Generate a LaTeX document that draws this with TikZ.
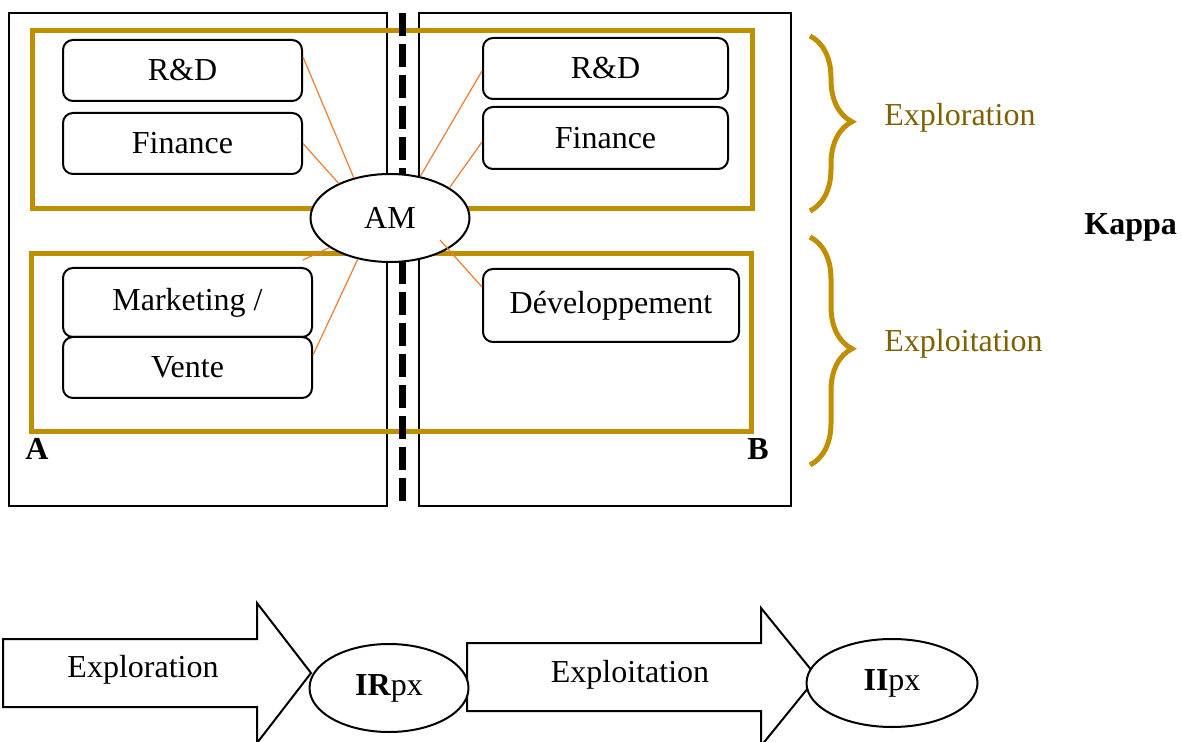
\documentclass[tikz,border=0pt]{standalone}
\usepackage{fontspec}
\setmainfont{Liberation Serif}
\usetikzlibrary{
  shapes.geometric,
  decorations.pathreplacing,
  positioning
}
\definecolor{gold}{HTML}{BF8F00}
\definecolor{golddark}{HTML}{7F6000}
\definecolor{linkorange}{HTML}{ED7D31}
\tikzset{
  base/.style={
    text=black,
    font=\fontsize{16}{19}\selectfont,
    align=center,
    inner sep=0pt,
  },
  panel/.style={
    draw=black,
    line width=1pt,
    minimum height=246.5pt,
  },
  zone/.style={
    draw=gold,
    line width=2.5pt,
    minimum width=360pt,
    minimum height=89pt,
  },
  divider/.style={
    line width=3.5pt,
    dash pattern=on 11.5pt off 4pt,
  },
  dept/.style={
    base,
    draw=black,
    fill=white,
    rounded corners=5pt,
    line width=1pt,
  },
  hub/.style={
    base,
    ellipse,
    draw=black,
    fill=white,
    line width=1pt,
    minimum width=#1,
    minimum height=44pt,
  },
  hub/.default=79.5pt,
  link/.style={
    draw=linkorange,
    line width=0.6pt,
  },
  curly/.style={
    draw=gold,
    line width=2.5pt,
    decorate,
    decoration={brace, amplitude=21pt, aspect=0.49},
  },
  zonetext/.style={
    base,
    text=golddark,
    anchor=west,
  },
  tag/.style={
    base,
    font=\fontsize{16}{19}\selectfont\bfseries,
  },
  bigarrow/.style={
    draw=black,
    fill=white,
    line width=1pt,
  },
}

\begin{document}
\begin{tikzpicture}[x=0.5pt, y=-0.5pt]
\useasboundingbox (0,0) rectangle (1182,742);

% === Panels A and B ===

\node[panel, minimum width=189pt] (panelA) at (198,259.5) {};
\node[panel, minimum width=186pt] (panelB) at (605,259.5) {};

\node[tag] (labA) at (37,449) {A};
\node[tag] (labB) at (758,449) {B};

% === Gold zones ===

\node[zone] (explore) at (392,120) {};
\node[zone] (exploit) at (391.5,343) {};

% Border between A and B
\draw[divider] (402,13) -- (402,506);

% === AM hub ===

\node[hub] (am) at (390,218) {AM};

% === Units of A ===

\node[dept, minimum width=119.5pt, minimum height=30.5pt]
  (rdA) at (182.5,70.5) {R\&D};

\node[dept, minimum width=119.5pt, minimum height=30.5pt, below=5pt of rdA]
  (finA) {Finance};

\node[dept, minimum width=124.5pt, minimum height=34.5pt]
  (mkt) at (187.5,302.5) {Marketing /};

\node[dept, minimum width=124.5pt, minimum height=30.5pt, below=-1pt of mkt]
  (vente) {Vente};

% === Units of B ===

\node[dept, minimum width=122.5pt, minimum height=30.5pt]
  (rdB) at (605.5,68.5) {R\&D};

\node[dept, minimum width=122.5pt, minimum height=31pt, below=3pt of rdB]
  (finB) {Finance};

\node[dept, minimum width=128pt, minimum height=36.5pt]
  (dev) at (611,305.5) {Développement};

% Links to AM
\coordinate (amIn) at (440,240);
\draw[link] ([yshift=6.75pt]rdA.east) -- (am.132);
\draw[link] (finA.east) -- (am.146);
\draw[link] ([xshift=-5pt, yshift=3.5pt]mkt.north east) -- (am.206);
\draw[link] ([yshift=6.25pt]vente.east) -- (am.232);
\draw[link] ([yshift=-1.25pt]rdB.west) -- (am.54);
\draw[link] ([yshift=-2pt]finB.west) -- (am.27);
\draw[link] (amIn) -- ([yshift=9.25pt]dev.west);

% === Braces ===

\draw[curly] (810,36) -- (810,211);
\draw[curly] (810,237) -- (810,465);

\node[zonetext] (txtExplore) at (884,118) {Exploration};
\node[zonetext] (txtExploit) at (884,344) {Exploitation};
\node[tag, anchor=west] (kappa) at (1084,227) {Kappa};

% === Bottom: phases ===

\draw[bigarrow] (3,639) -- (257,639) -- (257,603) -- (311,673)
  -- (257,743) -- (257,707) -- (3,707) -- cycle;
\node[base] (phExplore) at (143,670) {Exploration};

\draw[bigarrow] (467,643) -- (761,643) -- (761,608) -- (817,677)
  -- (761,746) -- (761,711) -- (467,711) -- cycle;
\node[base] (phExploit) at (630,675) {Exploitation};

\node[hub] (irpx) at (389,688) {\textbf{IR}px};
\node[hub=85.5pt] (iipx) at (892,683) {\textbf{II}px};

\end{tikzpicture}
\end{document}
